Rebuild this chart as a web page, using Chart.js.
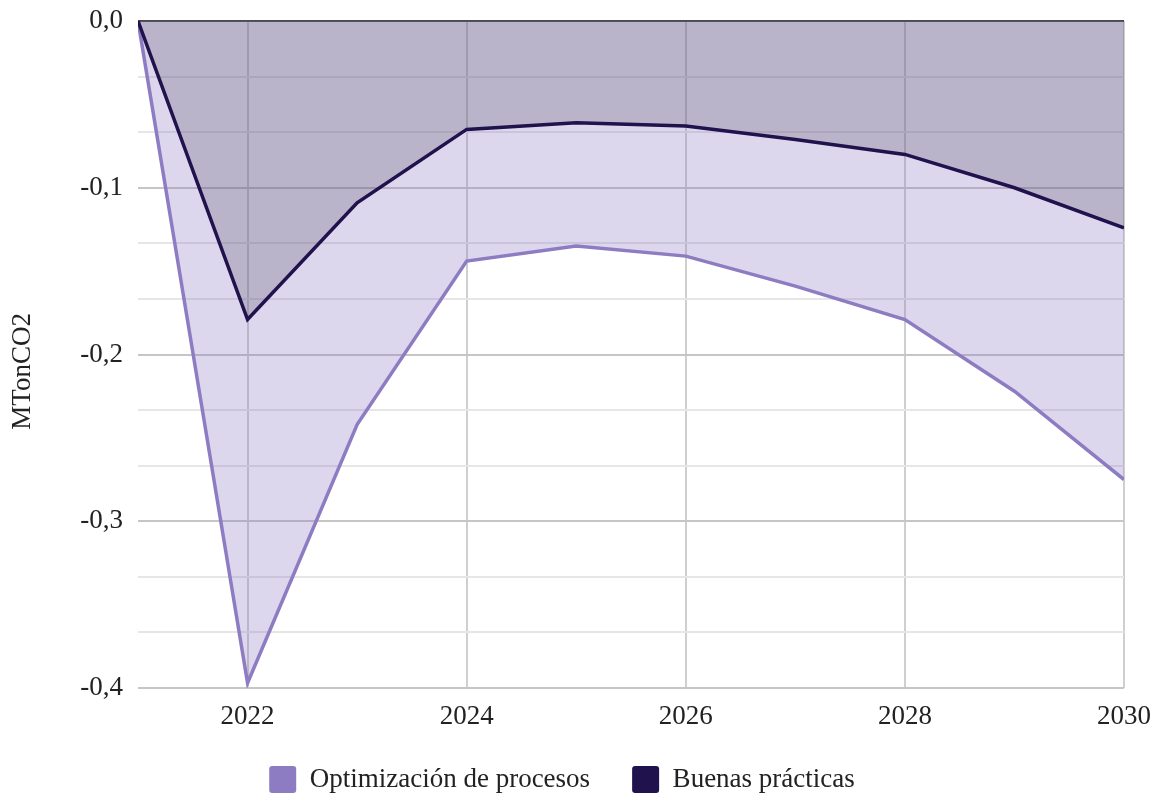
<!DOCTYPE html>
<html>
<head>
<meta charset="utf-8">
<script src="https://cdn.jsdelivr.net/npm/chart.js@4.4.1/dist/chart.umd.min.js"></script>
<style>
  html, body { margin: 0; padding: 0; background: #fff; }
  #wrap { width: 1158px; height: 796px; }
</style>
</head>
<body>
<div id="wrap"><canvas id="grafica"></canvas></div>
<script>
// años del eje x
const years = [2021, 2022, 2023, 2024, 2025, 2026, 2027, 2028, 2029, 2030];
const xTicks = [2022, 2024, 2026, 2028, 2030];

// MTonCO2
const optimizacion = [0, -0.397, -0.242, -0.144, -0.135, -0.141, -0.159, -0.179, -0.222, -0.275];
const buenasPracticas = [0, -0.179, -0.109, -0.065, -0.061, -0.063, -0.071, -0.080, -0.100, -0.124];

const yMajor = [0, -0.1, -0.2, -0.3, -0.4];

// lineas de cuadricula menores: tres por cada decima
const yTicks = [];
yMajor.forEach((v, i) => {
  yTicks.push(v);
  if (i < yMajor.length - 1) {
    yTicks.push(v - 0.1 / 3, v - 0.2 / 3);
  }
});

const isMajor = v => Math.abs(v * 10 - Math.round(v * 10)) < 1e-6;

const font = { family: "'Liberation Serif', 'Times New Roman', serif", size: 27 };

const data = {
  datasets: [
    {
      label: 'Buenas prácticas',
      data: years.map((y, i) => ({ x: y, y: buenasPracticas[i] })),
      borderColor: '#20124d',
      backgroundColor: 'rgba(60, 58, 72, 0.22)',
      borderWidth: 3.5,
      pointRadius: 0,
      fill: 'origin',
      tension: 0
    },
    {
      label: 'Optimización de procesos',
      data: years.map((y, i) => ({ x: y, y: optimizacion[i] })),
      borderColor: '#8e7cc3',
      backgroundColor: 'rgba(142, 124, 195, 0.3)',
      borderWidth: 3.5,
      pointRadius: 0,
      fill: 'origin',
      tension: 0
    }
  ]
};

const legendColors = { 'Buenas prácticas': '#20124d', 'Optimización de procesos': '#8e7cc3' };

new Chart(document.getElementById('grafica'), {
  type: 'line',
  data: data,
  options: {
    responsive: true,
    maintainAspectRatio: false,
    animation: false,
    layout: { padding: { top: 21, right: 34, left: 0, bottom: -7 } },
    plugins: {
      tooltip: { enabled: false },
      legend: {
        position: 'bottom',
        reverse: true,
        labels: {
          font: font,
          color: '#222',
          boxWidth: 27,
          boxHeight: 27,
          padding: 42,
          generateLabels: chart => {
            const items = Chart.defaults.plugins.legend.labels.generateLabels(chart);
            items.forEach(it => {
              it.fillStyle = legendColors[it.text];
              it.strokeStyle = legendColors[it.text];
              it.lineWidth = 0;
              it.borderRadius = 3;
            });
            return items;
          }
        }
      }
    },
    scales: {
      x: {
        type: 'linear',
        min: 2021,
        max: 2030,
        afterBuildTicks: scale => { scale.ticks = xTicks.map(v => ({ value: v })); },
        afterFit: scale => {
          scale.height = 36;
          scale.paddingLeft = 0;
          scale.paddingRight = 0;
        },
        border: { display: false },
        grid: { color: '#cfcfcf', lineWidth: 2, drawTicks: false },
        ticks: {
          font: font,
          color: '#222',
          padding: 13,
          maxRotation: 0,
          callback: v => String(v)
        }
      },
      y: {
        min: -0.4,
        max: 0,
        afterBuildTicks: scale => { scale.ticks = yTicks.map(v => ({ value: v })); },
        afterFit: scale => {
          scale.width = 138;
          scale.paddingTop = 0;
          scale.paddingBottom = 0;
        },
        border: { display: false },
        grid: {
          drawTicks: false,
          lineWidth: 2,
          color: ctx => {
            const v = ctx.tick ? ctx.tick.value : 0;
            if (Math.abs(v) < 1e-9) return '#4a4a4a';
            return isMajor(v) ? '#c6c6c6' : '#e6e6e6';
          }
        },
        ticks: {
          font: font,
          color: '#222',
          padding: 15,
          callback: v => isMajor(v) ? v.toFixed(1).replace('.', ',').replace('-0,0', '0,0') : ''
        },
        title: {
          display: true,
          // espacios finales para bajar el titulo como en el original
          text: 'MTonCO2\u00a0\u00a0\u00a0\u00a0\u00a0',
          font: font,
          color: '#222',
          padding: { top: 7, bottom: 0 }
        }
      }
    }
  }
});
</script>
</body>
</html>
